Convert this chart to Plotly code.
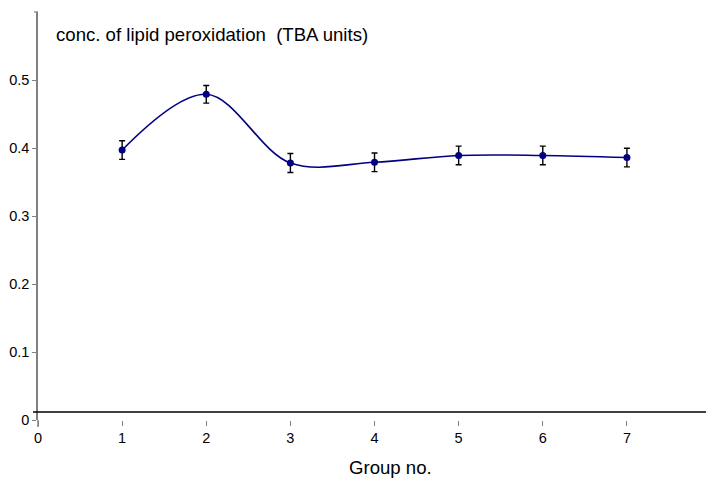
import plotly.graph_objects as go

groups = [1, 2, 3, 4, 5, 6, 7]
conc = [0.397, 0.479, 0.378, 0.379, 0.389, 0.389, 0.386]
err = [0.0137, 0.013, 0.014, 0.0137, 0.0137, 0.0137, 0.0137]
x_ticks = [0, 1, 2, 3, 4, 5, 6, 7]
y_ticks = [0, 0.1, 0.2, 0.3, 0.4, 0.5]
y_labels = ["0", "0.1", "0.2", "0.3", "0.4", "0.5"]

FONT = "Liberation Sans, Arial, sans-serif"
W, H = 706, 480
L, R, T, B = 38, 0, 12, 60
pw = W - L - R
ph = H - T - B

fig = go.Figure()
fig.add_trace(go.Scatter(
    x=groups, y=conc, mode="lines+markers",
    line=dict(color="#000080", width=1.6, shape="spline", smoothing=1),
    marker=dict(color="#000080", size=7, symbol="circle"),
    error_y=dict(type="data", array=err, visible=True, color="black", thickness=1.4, width=3),
    showlegend=False,
))

shapes = [
    dict(type="line", xref="paper", yref="paper", x0=0, x1=0, y0=0, y1=-7 / ph,
         line=dict(color="#808080", width=1.5)),
    dict(type="line", xref="paper", yref="paper", x0=-4 / pw, x1=0, y0=1, y1=1,
         line=dict(color="#808080", width=1.2)),
    dict(type="line", xref="paper", yref="paper", x0=-5 / pw, x1=1, y0=8 / ph, y1=8 / ph,
         line=dict(color="black", width=1.5)),
]

fig.update_layout(
    width=W, height=H,
    margin=dict(l=L, r=R, t=T, b=B),
    paper_bgcolor="white", plot_bgcolor="white",
    font=dict(family=FONT, size=14, color="black"),
    shapes=shapes,
    xaxis=dict(range=[0, 7.94], tickvals=x_ticks, ticktext=[str(v) for v in x_ticks],
               showline=False, showgrid=False, zeroline=False,
               ticks="outside", ticklen=5, tickcolor="#808080", tickwidth=1,
               tickfont=dict(size=14.5)),
    yaxis=dict(range=[0, 0.6], tickvals=y_ticks, ticktext=y_labels,
               showline=True, linecolor="#808080", linewidth=1.5,
               showgrid=False, zeroline=False,
               ticks="outside", ticklen=4, tickcolor="#808080", tickwidth=1,
               tickfont=dict(size=14.5)),
    annotations=[
        dict(text="conc. of lipid peroxidation  (TBA units)", xref="paper", yref="paper",
             x=(54 - L) / pw, y=(H - B - 34) / ph, xanchor="left", yanchor="middle",
             showarrow=False, font=dict(size=18.6, family=FONT)),
        dict(text="Group no.", xref="paper", yref="paper",
             x=(390 - L) / pw, y=(H - B - 467) / ph, xanchor="center", yanchor="middle",
             showarrow=False, font=dict(size=18.6, family=FONT)),
    ],
)

fig.write_html("out.html")
